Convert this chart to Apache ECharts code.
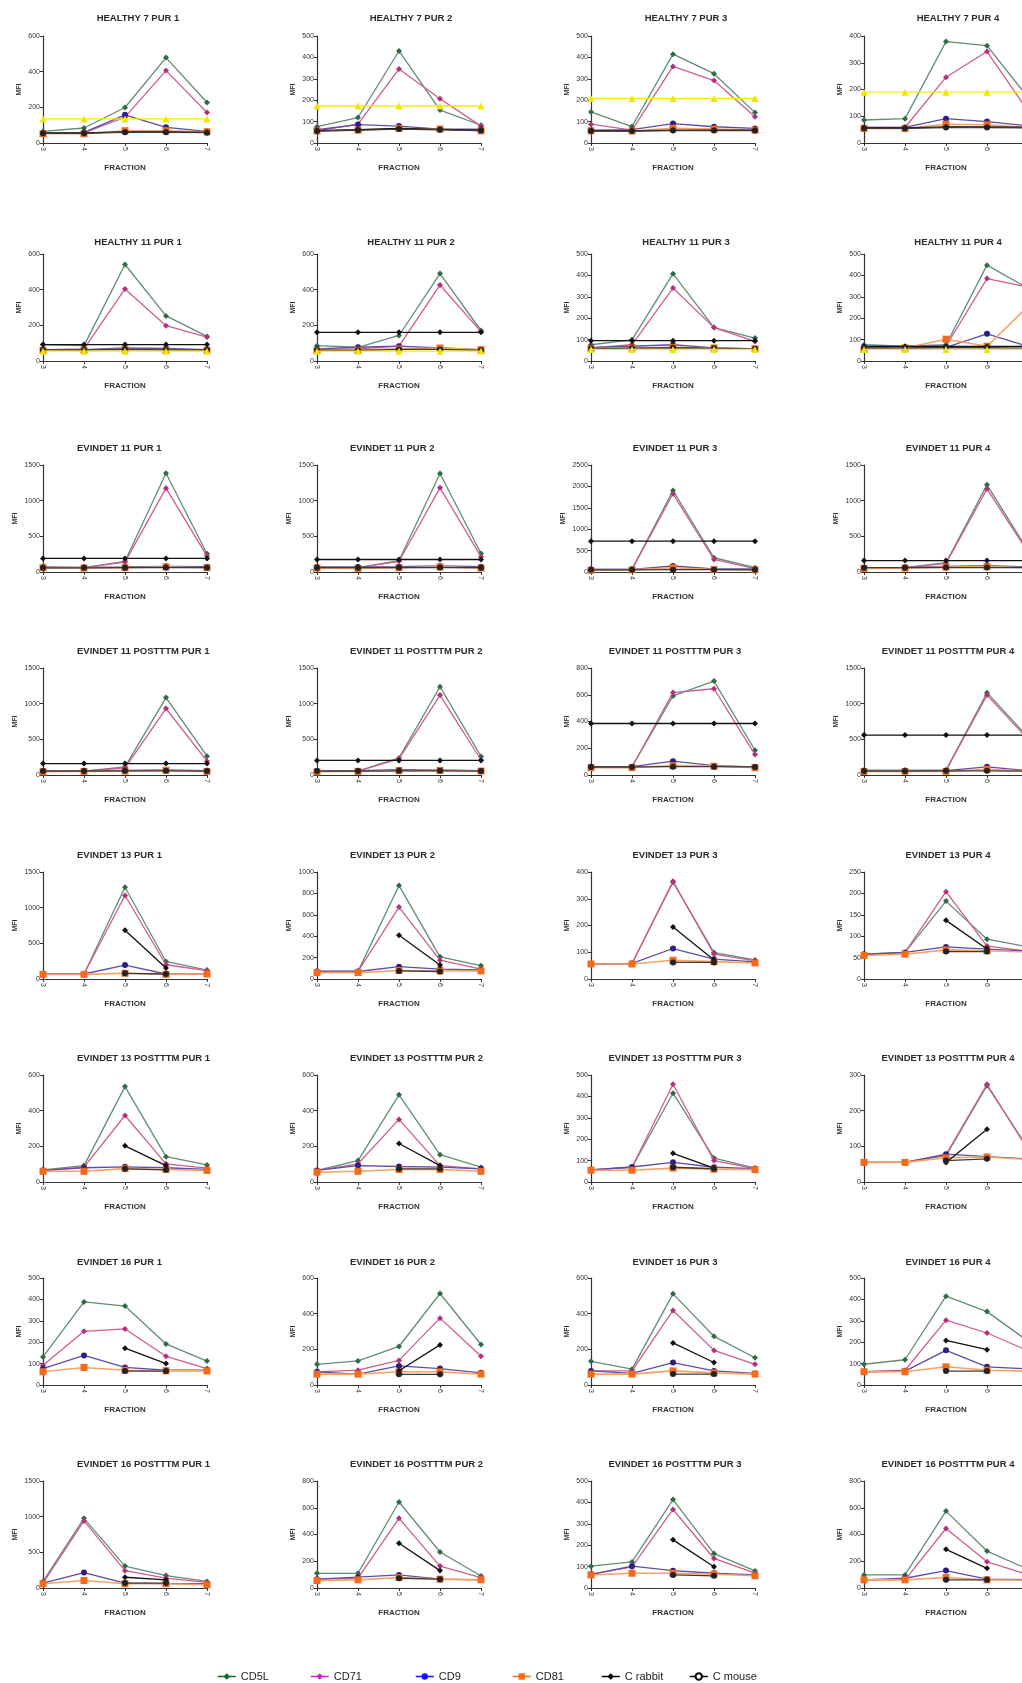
<!DOCTYPE html>
<html>
<head>
<meta charset="utf-8">
<script src="https://cdn.jsdelivr.net/npm/echarts@6/dist/echarts.min.js"></script>
<style>
html,body{margin:0;padding:0;background:#fff;overflow:hidden;width:1022px;height:1683px;}
#chart{width:1060px;height:1683px;}
</style>
</head>
<body>
<div id="chart"></div>
<script>
// ---------- DATA ----------
const fractions = ['3', '4', '5', '6', '7'];

const panelTitles = [
  'HEALTHY 7 PUR 1', 'HEALTHY 7 PUR 2', 'HEALTHY 7 PUR 3', 'HEALTHY 7 PUR 4',
  'HEALTHY 11 PUR 1', 'HEALTHY 11 PUR 2', 'HEALTHY 11 PUR 3', 'HEALTHY 11 PUR 4',
  'EVINDET 11 PUR 1', 'EVINDET 11 PUR 2', 'EVINDET 11 PUR 3', 'EVINDET 11 PUR 4',
  'EVINDET 11 POSTTTM PUR 1', 'EVINDET 11 POSTTTM PUR 2', 'EVINDET 11 POSTTTM PUR 3', 'EVINDET 11 POSTTTM PUR 4',
  'EVINDET 13 PUR 1', 'EVINDET 13 PUR 2', 'EVINDET 13 PUR 3', 'EVINDET 13 PUR 4',
  'EVINDET 13 POSTTTM PUR 1', 'EVINDET 13 POSTTTM PUR 2', 'EVINDET 13 POSTTTM PUR 3', 'EVINDET 13 POSTTTM PUR 4',
  'EVINDET 16 PUR 1', 'EVINDET 16 PUR 2', 'EVINDET 16 PUR 3', 'EVINDET 16 PUR 4',
  'EVINDET 16 POSTTTM PUR 1', 'EVINDET 16 POSTTTM PUR 2', 'EVINDET 16 POSTTTM PUR 3', 'EVINDET 16 POSTTTM PUR 4'
];

const yMax = [
  600, 500, 500, 400,
  600, 600, 500, 500,
  1500, 1500, 2500, 1500,
  1500, 1500, 800, 1500,
  1500, 1000, 400, 250,
  600, 600, 500, 300,
  500, 600, 600, 500,
  1500, 800, 500, 800
];
const yStep = [
  200, 100, 100, 100,
  200, 200, 100, 100,
  500, 500, 500, 500,
  500, 500, 200, 500,
  500, 200, 100, 50,
  200, 200, 100, 100,
  100, 200, 200, 100,
  500, 200, 100, 200
];

const cd5l = [
  [65, 84, 199, 479, 227], [76, 119, 430, 154, 83], [145, 77, 415, 324, 142], [86, 91, 379, 364, 170],
  [92, 86, 541, 253, 138], [86, 77, 143, 490, 171], [76, 99, 408, 156, 107], [76, 69, 76, 448, 340],
  [60, 60, 150, 1384, 255], [60, 60, 160, 1380, 260], [62, 62, 1904, 333, 100], [60, 60, 130, 1222, 300],
  [55, 55, 115, 1085, 263], [55, 55, 240, 1237, 260], [62, 62, 591, 702, 185], [69, 69, 69, 1154, 530],
  [70, 70, 1287, 246, 125], [71, 71, 873, 207, 124], [56, 58, 362, 99, 71], [56, 62, 182, 93, 75],
  [68, 92, 535, 142, 96], [65, 120, 489, 153, 83], [57, 69, 415, 112, 65], [55, 55, 74, 270, 95],
  [131, 388, 369, 192, 112], [116, 135, 216, 513, 227], [133, 89, 511, 273, 153], [97, 118, 415, 343, 205],
  [92, 977, 307, 174, 92], [110, 110, 643, 269, 90], [102, 122, 413, 161, 80], [98, 98, 575, 276, 140]
];
const cd71 = [
  [56, 56, 145, 406, 171], [57, 88, 346, 207, 79], [88, 60, 358, 292, 123], [58, 58, 246, 342, 120],
  [64, 68, 404, 198, 134], [64, 68, 83, 426, 165], [61, 76, 341, 156, 92], [61, 64, 69, 385, 345],
  [60, 60, 139, 1175, 223], [60, 60, 150, 1180, 215], [46, 62, 1827, 294, 77], [60, 60, 120, 1165, 280],
  [55, 55, 100, 932, 194], [55, 55, 225, 1120, 210], [62, 62, 616, 645, 153], [60, 60, 60, 1120, 500],
  [70, 70, 1170, 200, 116], [71, 71, 672, 176, 93], [56, 58, 365, 93, 68], [58, 62, 204, 77, 65],
  [65, 83, 373, 102, 78], [65, 102, 351, 92, 74], [57, 69, 457, 100, 62], [55, 55, 77, 274, 90],
  [92, 251, 262, 134, 77], [74, 83, 138, 375, 161], [79, 79, 418, 194, 116], [62, 69, 303, 243, 160],
  [69, 940, 243, 138, 78], [66, 73, 521, 164, 78], [64, 99, 367, 138, 69], [61, 61, 445, 196, 100]
];
const cd9 = [
  [56, 60, 158, 88, 65], [62, 86, 79, 65, 65], [60, 62, 91, 76, 68], [58, 58, 91, 80, 64],
  [64, 64, 73, 70, 64], [68, 77, 83, 73, 64], [64, 69, 76, 61, 57], [61, 61, 64, 127, 68],
  [70, 65, 70, 80, 75], [70, 70, 75, 85, 75], [60, 60, 140, 70, 70], [60, 65, 80, 90, 70],
  [55, 60, 65, 70, 60], [55, 60, 75, 70, 60], [62, 62, 103, 70, 60], [55, 55, 60, 115, 60],
  [70, 70, 195, 70, 70], [70, 70, 115, 93, 84], [56, 58, 114, 74, 64], [58, 62, 75, 70, 65],
  [65, 80, 85, 80, 70], [65, 92, 87, 83, 74], [57, 70, 92, 69, 62], [55, 55, 78, 71, 65],
  [77, 138, 82, 69, 69], [74, 61, 107, 92, 68], [79, 65, 126, 79, 65], [62, 65, 162, 85, 75],
  [69, 216, 69, 60, 60], [66, 81, 98, 66, 61], [64, 102, 81, 69, 61], [61, 73, 130, 66, 63]
];
const cd81 = [
  [52, 52, 69, 69, 63], [56, 60, 68, 65, 57], [57, 56, 69, 65, 60], [54, 54, 70, 68, 58],
  [60, 62, 66, 62, 60], [59, 61, 68, 73, 64], [58, 61, 64, 61, 57], [54, 61, 102, 69, 255],
  [60, 55, 60, 70, 60], [55, 50, 60, 70, 55], [40, 50, 100, 60, 50], [50, 55, 70, 75, 60],
  [45, 50, 55, 65, 50], [45, 50, 60, 65, 55], [55, 55, 70, 65, 55], [50, 50, 50, 80, 55],
  [65, 65, 80, 65, 70], [60, 60, 80, 75, 75], [56, 56, 70, 65, 60], [55, 58, 68, 66, 63],
  [60, 60, 75, 70, 65], [55, 60, 70, 70, 60], [55, 55, 65, 60, 58], [55, 55, 68, 70, 63],
  [62, 82, 69, 66, 66], [61, 61, 74, 74, 61], [61, 61, 79, 68, 61], [62, 62, 85, 69, 65],
  [60, 105, 60, 60, 46], [56, 61, 78, 66, 61], [61, 69, 69, 64, 57], [61, 61, 78, 61, 58]
];
const cRabbit = [
  [55, 56, 62, 62, 60], [58, 62, 68, 64, 60], [58, 57, 60, 60, 60], [56, 56, 60, 60, 58],
  [92, 92, 92, 92, 92], [161, 161, 161, 161, 161], [95, 95, 95, 95, 95], [68, 68, 68, 68, 68],
  [190, 190, 190, 190, 190], [175, 175, 175, 175, 175], [720, 720, 720, 720, 720], [160, 160, 160, 160, 160],
  [160, 160, 160, 160, 160], [205, 205, 205, 205, 205], [385, 385, 385, 385, 385], [560, 560, 560, 560, 560],
  [null, null, 683, 153, null], [null, null, 409, 130, null], [null, null, 194, 71, null], [null, null, 137, 70, null],
  [null, null, 203, 92, null], [null, null, 216, 92, null], [null, null, 134, 65, null], [null, null, 55, 148, null],
  [null, null, 172, 100, null], [null, null, 80, 225, null], [null, null, 236, 126, null], [null, null, 208, 165, null],
  [null, null, 151, 115, null], [null, null, 335, 130, null], [null, null, 225, 99, null], [null, null, 289, 147, null]
];
const cMouse = [
  [55, 55, 60, 60, 58], [56, 60, 65, 62, 58], [56, 56, 58, 58, 58], [55, 55, 58, 58, 57],
  [62, 62, 65, 62, 62], [60, 60, 65, 65, 60], [58, 60, 62, 60, 57], [60, 60, 62, 62, 60],
  [58, 58, 60, 62, 60], [60, 60, 62, 62, 60], [50, 50, 55, 55, 50], [60, 60, 62, 62, 60],
  [55, 55, 58, 58, 55], [55, 55, 58, 58, 55], [60, 60, 62, 62, 60], [55, 55, 58, 58, 55],
  [null, null, 79, 70, null], [null, null, 75, 70, null], [null, null, 62, 62, null], [null, null, 64, 64, null],
  [null, null, 74, 68, null], [null, null, 74, 74, null], [null, null, 69, 62, null], [null, null, 60, 65, null],
  [null, null, 65, 65, null], [null, null, 60, 60, null], [null, null, 61, 61, null], [null, null, 65, 65, null],
  [null, null, 69, 69, null], [null, null, 73, 66, null], [null, null, 61, 57, null], [null, null, 61, 61, null]
];
// yellow control line (only healthy panels, not in legend)
const isotype = [
  [135, 135, 135, 135, 135], [173, 173, 173, 173, 173], [208, 208, 208, 208, 208], [190, 190, 190, 190, 190],
  [55, 55, 55, 55, 55], [55, 55, 55, 55, 55], [54, 54, 54, 54, 54], [54, 54, 54, 54, 54]
];

const legendNames = ['CD5L', 'CD71', 'CD9', 'CD81', 'C rabbit', 'C mouse'];

// ---------- LAYOUT / STYLE ----------
const FONT = '"Liberation Sans", Arial, sans-serif';
const colLeft = [43, 317, 591, 864];
const rowTop = [36, 254, 465, 668, 872, 1075, 1278, 1481];
const titleY = [18, 242, 448, 651, 855, 1058, 1262, 1464];
const PW = 164, PH = 107;

const styles = {
  'CD5L':     { line: '#628d70', mark: '#2f6b45', symbol: 'diamond', size: 6 },
  'CD71':     { line: '#cf5c93', mark: '#b3307a', symbol: 'diamond', size: 6 },
  'CD9':      { line: '#5d4cab', mark: '#2c1f86', symbol: 'circle', size: 6 },
  'CD81':     { line: '#f6a262', mark: '#f26a1a', symbol: 'rect', size: 7 },
  'C rabbit': { line: '#111111', mark: '#111111', symbol: 'diamond', size: 6 },
  'C mouse':  { line: '#3a3a3a', mark: '#222222', symbol: 'circle', size: 6 },
  'Isotype':  { line: '#f3ee00', mark: '#f0e600', symbol: 'triangle', size: 7 }
};
const legendColors = {
  'CD5L': '#0b6b1e', 'CD71': '#cc22cc', 'CD9': '#1010ff', 'CD81': '#ff6a10', 'C rabbit': '#000', 'C mouse': '#000'
};
const legendLeft = [212, 305, 410, 507, 596, 684];

const grids = [], xAxes = [], yAxes = [], series = [], graphics = [];

function lineSeries(name, p, data, z) {
  const s = styles[name];
  return {
    name: name, type: 'line', xAxisIndex: p, yAxisIndex: p,
    data: data, symbol: s.symbol, symbolSize: s.size, showSymbol: true,
    connectNulls: false, z: z,
    lineStyle: { color: s.line, width: name === 'CD81' ? 1.6 : 1.3 },
    itemStyle: { color: s.mark },
    emphasis: { disabled: true }
  };
}

for (let p = 0; p < 32; p++) {
  const r = Math.floor(p / 4), c = p % 4;
  grids.push({ left: colLeft[c], top: rowTop[r], width: PW, height: PH, containLabel: false });
  xAxes.push({
    gridIndex: p, type: 'category', data: fractions, boundaryGap: false,
    axisLine: { show: true, lineStyle: { color: '#333', width: 1.2 } },
    axisTick: { show: true, length: 3, lineStyle: { color: '#333' } },
    axisLabel: { rotate: -90, fontSize: 7, margin: 4, color: '#333', fontFamily: FONT },
    splitLine: { show: false },
    name: 'FRACTION', nameLocation: 'middle', nameGap: 21,
    nameTextStyle: { fontSize: 8, fontWeight: 'bold', color: '#333', fontFamily: FONT }
  });
  const digits = String(yMax[p]).length;
  yAxes.push({
    gridIndex: p, type: 'value', min: 0, max: yMax[p], interval: yStep[p],
    axisLine: { show: true, lineStyle: { color: '#333', width: 1.2 } },
    axisTick: { show: true, length: 3, lineStyle: { color: '#333' } },
    axisLabel: { fontSize: 7, margin: 3, color: '#333', fontFamily: FONT, formatter: v => String(v) },
    splitLine: { show: false },
    name: 'MFI', nameLocation: 'middle', nameGap: 9 + 3.8 * digits,
    nameTextStyle: { fontSize: 7, fontWeight: 'bold', color: '#333', fontFamily: FONT }
  });

  series.push(lineSeries('CD5L', p, cd5l[p], 2));
  series.push(lineSeries('CD71', p, cd71[p], 3));
  series.push(lineSeries('CD9', p, cd9[p], 4));
  series.push(lineSeries('CD81', p, cd81[p], 5));
  series.push(lineSeries('C rabbit', p, cRabbit[p], 6));
  series.push(lineSeries('C mouse', p, cMouse[p], 7));
  if (p < isotype.length) series.push(lineSeries('Isotype', p, isotype[p], 8));

  // panel title
  const healthy = panelTitles[p].indexOf('HEALTHY') === 0;
  let tx, align;
  if (healthy) { tx = [138, 411, 686, 958][c]; align = 'center'; }
  else if (c === 0) { tx = 77; align = 'left'; }
  else if (c === 1) { tx = 350; align = 'left'; }
  else { tx = [0, 0, 675, 948][c]; align = 'center'; }
  graphics.push({
    type: 'text', x: tx, y: titleY[r], silent: true,
    style: {
      text: panelTitles[p], fill: '#2a2a2a',
      font: 'bold 9.5px ' + FONT,
      align: align, verticalAlign: 'middle',
      textAlign: align, textVerticalAlign: 'middle'
    }
  });
}

const legends = legendNames.map((n, i) => ({
  left: legendLeft[i], top: 1666, orient: 'horizontal',
  itemWidth: 18, itemHeight: 8, itemGap: 0,
  textStyle: { fontSize: 11, color: '#222', fontFamily: FONT },
  data: [{
    name: n,
    itemStyle: n === 'C mouse'
      ? { color: '#fff', borderColor: '#000', borderWidth: 2 }
      : { color: legendColors[n] },
    lineStyle: { color: legendColors[n], width: 1.5 }
  }]
}));

const chart = echarts.init(document.getElementById('chart'), null, { renderer: 'canvas' });
chart.setOption({
  backgroundColor: '#ffffff',
  animation: false,
  textStyle: { fontFamily: FONT },
  grid: grids,
  xAxis: xAxes,
  yAxis: yAxes,
  legend: legends,
  series: series,
  graphic: graphics
});
</script>
</body>
</html>
